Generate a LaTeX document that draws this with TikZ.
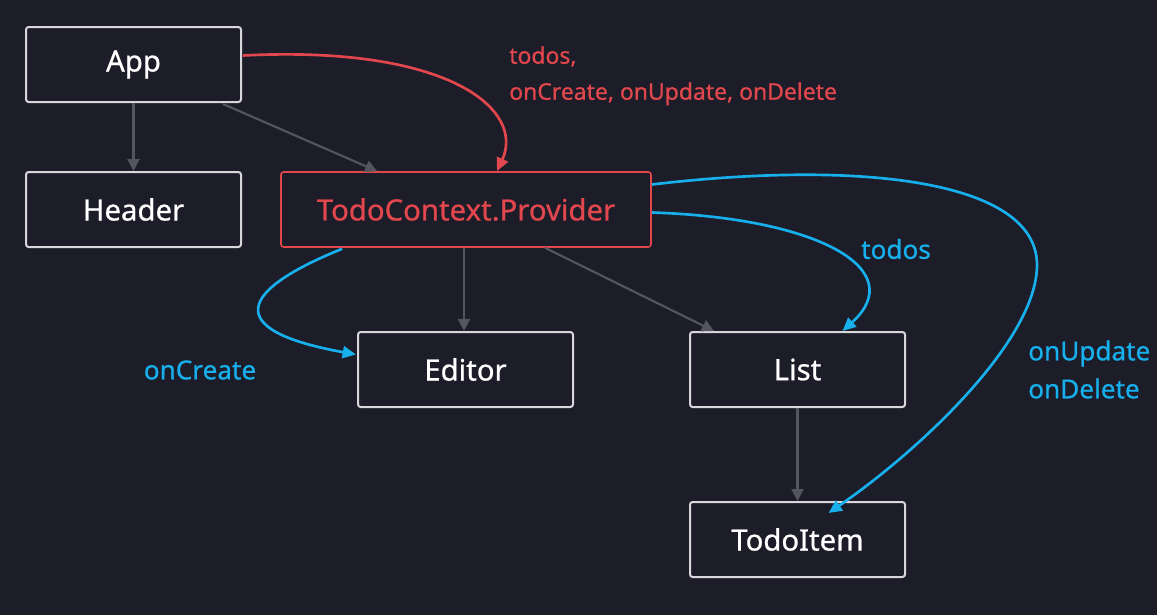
\documentclass[tikz,border=0pt]{standalone}
\usepackage{fontspec}
\setmainfont{Noto Sans}
\newfontfamily\medfont{Noto Sans}[FakeBold=0.7]
\usetikzlibrary{arrows.meta,calc}
\definecolor{bg}{HTML}{1C1D29}
\definecolor{boxline}{HTML}{D8D8DC}
\definecolor{redc}{HTML}{E2474D}
\definecolor{bluec}{HTML}{17B0EC}
\definecolor{grayc}{HTML}{55555F}
\begin{document}
\begin{tikzpicture}[x=0.75pt,y=-0.75pt,
  comp/.style={draw=boxline,line width=1.5pt,fill=bg,rounded corners=2pt,minimum width=161.25pt,minimum height=56.25pt,text=white,font=\medfont\fontsize{22}{26}\selectfont,inner sep=0pt},
  redcomp/.style={comp,draw=redc,line width=1.2pt,text=redc},
  tree/.style={draw=grayc,line width=1.6pt,-{Triangle[length=9pt,width=9pt]}},
  redflow/.style={draw=redc,line width=2pt,-{Triangle[length=10pt,width=9pt]}},
  blueflow/.style={draw=bluec,line width=2pt,-{Triangle[length=10pt,width=9pt]}},
  redlab/.style={text=redc,font=\medfont\fontsize{17.2}{27}\selectfont,align=left,inner sep=0pt},
  bluelab/.style={text=bluec,font=\medfont\fontsize{19.6}{28.5}\selectfont,align=left,inner sep=0pt}]
\fill[bg] (0,0) rectangle (1157,615);
\useasboundingbox (0,0) rectangle (1157,615);

\node[comp] (app) at (133.5,64.5) {App};
\node[comp] (header) at (133.5,209.5) {Header};
\node[redcomp,minimum width=277.5pt] (prov) at (466,209.5) {TodoContext.Provider};
\node[comp] (editor) at (465.5,369.5) {Editor};
\node[comp] (list) at (797.5,369.5) {List};
\node[comp] (item) at (797.5,539.5) {TodoItem};

\coordinate (peak) at (1037,265);

\draw[tree] (app.south) -- (header.north);
\draw[tree] ($(app.south east)+(-19,1)$) -- ($(prov.north west)+(97,0)$);
\draw[tree] ($(prov.south)+(-2,0)$) -- ($(editor.north)+(-1.5,0)$);
\draw[tree] ($(prov.south)+(79,0)$) -- ($(list.north west)+(25,0)$);
\draw[tree] (list.south) -- (item.north);

\draw[redflow] ($(app.east)+(1,-9)$) .. controls (450,45) and (525,110) .. ($(prov.north)+(31,0)$);

\draw[blueflow] ($(prov.south west)+(62,1)$) .. controls (240,290) and (220,330) .. ($(editor.west)+(-1,-15)$);
\draw[blueflow] ($(prov.east)+(0,3)$) .. controls (820,218) and (910,270) .. ($(list.north)+(45,0)$);
\draw[blueflow] ($(prov.east)+(0,-25)$) .. controls (860,160) and (1037,180) .. (peak)
  .. controls (1037,340) and (920,450) .. ($(item.north)+(31,12)$);

\node[redlab,anchor=north west] (redtxt) at (509,46) {todos,\\onCreate, onUpdate, onDelete};
\node[bluelab] (todoslab) at (896,249) {todos};
\node[bluelab] (createlab) at (200,370) {onCreate};
\node[bluelab,anchor=west] (updlab) at (1028,369.5) {onUpdate\\onDelete};
\end{tikzpicture}
\end{document}
